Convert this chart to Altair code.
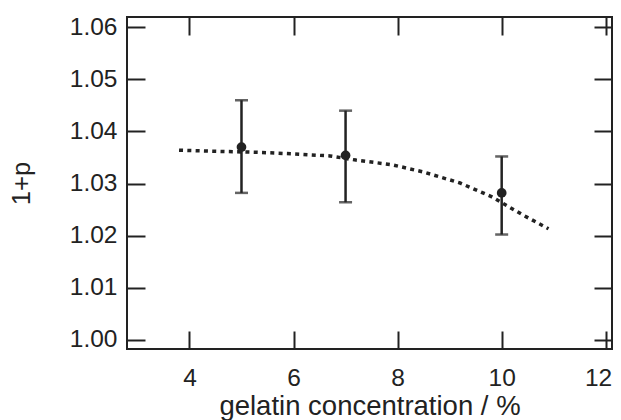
import altair as alt
import pandas as pd

# measured data points (gelatin concentration in %, 1+p)
conc = [5, 7, 10]
value = [1.0370, 1.0354, 1.0282]
err_low = [1.0282, 1.0264, 1.0202]
err_high = [1.0460, 1.0440, 1.0352]

# dotted fit curve
fit_x = [3.8, 4.5, 5.3, 6.0, 6.7, 7.2, 7.9, 8.5, 9.2, 9.8, 10.4, 10.9]
fit_y = [1.0364, 1.0362, 1.0360, 1.0357, 1.0353, 1.0345, 1.0336, 1.0322, 1.0301, 1.0275, 1.0240, 1.0213]

x_ticks = [4, 6, 8, 10, 12]
y_ticks = [1.00, 1.01, 1.02, 1.03, 1.04, 1.05, 1.06]

INK = "#222222"
FONT = "Liberation Sans"

pts = pd.DataFrame({"conc": conc, "value": value, "lo": err_low, "hi": err_high})
fit = pd.DataFrame({"x": fit_x, "y": fit_y})

xscale = alt.Scale(domain=[2.8, 12.12], nice=False, zero=False)
yscale = alt.Scale(domain=[0.9982, 1.0620], nice=False, zero=False)

common = dict(offset=-18, tickSize=18, tickWidth=2, tickColor=INK, domain=False, grid=False,
              labelFont=FONT, labelFontSize=24.5, labelColor=INK, titleFont=FONT,
              titleColor=INK, titleFontWeight="normal")

x_bottom = alt.Axis(orient="bottom", values=x_ticks, format="d", title="gelatin concentration / %",
                    labelPadding=17, titlePadding=3, titleFontSize=27.5, labelOverlap=False,
                    labelBound=False, labelFlush=10, labelFlushOffset=6, **common)
x_top = alt.Axis(orient="top", values=x_ticks, labels=False, title=None, **common)
y_left = alt.Axis(orient="left", values=y_ticks, format=".2f", title="1+p",
                  labelPadding=10, titlePadding=35, titleFontSize=25.5, **common)
y_right = alt.Axis(orient="right", values=y_ticks, labels=False, title=None, **common)

line = alt.Chart(fit).mark_line(color=INK, strokeWidth=3.5, strokeDash=[4, 4.3]).encode(
    x=alt.X("x:Q", scale=xscale, axis=x_bottom),
    y=alt.Y("y:Q", scale=yscale, axis=y_left),
)

bars = alt.Chart(pts).mark_rule(color=INK, strokeWidth=2.5).encode(
    x=alt.X("conc:Q", scale=xscale, axis=x_top),
    y=alt.Y("lo:Q", scale=yscale, axis=y_right),
    y2="hi:Q",
)

cap_lo = alt.Chart(pts).mark_tick(color=INK, orient="horizontal", size=13, thickness=2.5).encode(
    x=alt.X("conc:Q", scale=xscale, axis=None),
    y=alt.Y("lo:Q", scale=yscale, axis=None),
)
cap_hi = alt.Chart(pts).mark_tick(color=INK, orient="horizontal", size=13, thickness=2.5).encode(
    x=alt.X("conc:Q", scale=xscale, axis=None),
    y=alt.Y("hi:Q", scale=yscale, axis=None),
)

dots = alt.Chart(pts).mark_point(filled=True, color=INK, opacity=1, size=95).encode(
    x=alt.X("conc:Q", scale=xscale, axis=None),
    y=alt.Y("value:Q", scale=yscale, axis=None),
)

chart = (
    alt.layer(line, bars, cap_lo, cap_hi, dots)
    .resolve_axis(x="independent", y="independent")
    .properties(
        width=485,
        height=332,
        autosize=alt.AutoSizeParams(type="none"),
        padding={"left": 119, "top": 9, "right": 1, "bottom": 72},
        background="white",
    )
    .configure_view(stroke=INK, strokeWidth=2)
)

chart.save("out.html", embed_options={"renderer": "svg", "actions": False})
